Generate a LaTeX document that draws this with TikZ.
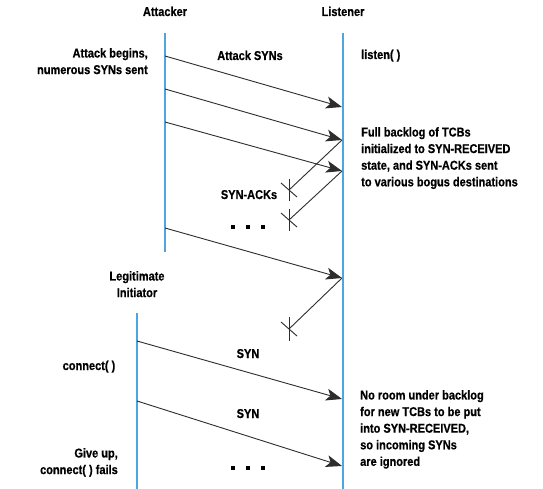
\documentclass[tikz,border=0pt]{standalone}
\usepackage{fontspec}
\setmainfont{Liberation Sans}[FakeStretch=0.86, BoldFont={Liberation Sans Bold}, BoldFeatures={FakeStretch=0.86, FakeBold=0.6}]
\usetikzlibrary{arrows.meta}
\definecolor{lifeblue}{RGB}{79,166,222}
\definecolor{msggray}{RGB}{45,45,45}
\begin{document}
\begin{tikzpicture}[x=1pt,y=-1pt,
  lbl/.style={font=\fontsize{12.8}{16.6}\selectfont\bfseries, inner sep=0pt},
  life/.style={draw=lifeblue, line width=1.8pt},
  msg/.style={draw=msggray, line width=0.9pt, -{Stealth[length=16pt,width=12pt,inset=4pt]}},
  ack/.style={draw=msggray, line width=0.9pt},
  dotsq/.style={fill=black, minimum size=3.6pt, inner sep=0pt}
]
\useasboundingbox[fill=white] (0,0) rectangle (543,489);

% lifelines
\coordinate (atop) at (165,33);
\coordinate (abot) at (165,252);
\coordinate (ltop) at (343,33);
\coordinate (lbot) at (343,489);
\coordinate (itop) at (137,313);
\coordinate (ibot) at (137,489);
\draw[life] (atop) -- (abot);
\draw[life] (ltop) -- (lbot);
\draw[life] (itop) -- (ibot);

% message endpoints
\coordinate (s1) at (165,56);  \coordinate (t1) at (342,107);
\coordinate (s2) at (165,89);  \coordinate (t2) at (342,140);
\coordinate (s3) at (165,122); \coordinate (t3) at (342,171);
\coordinate (s4) at (165,228); \coordinate (t4) at (342,278);
\coordinate (s5) at (137,341); \coordinate (t5) at (342,399);
\coordinate (s6) at (137,401); \coordinate (t6) at (342,466);

\draw[msg] (s1) -- (t1);
\draw[msg] (s2) -- (t2);
\draw[msg] (s3) -- (t3);
\draw[msg] (s4) -- (t4);
\draw[msg] (s5) -- (t5);
\draw[msg] (s6) -- (t6);

% SYN-ACKs that go nowhere
\coordinate (k1) at (289,190);
\coordinate (k2) at (289,220);
\coordinate (k3) at (289,329);
\draw[ack] (t2) -- (k1);
\draw[ack] (t3) -- (k2);
\draw[ack] (t4) -- (k3);
\foreach \k/\h in {k1/11,k2/11,k3/12}{
  \draw[ack] (\k) ++(0,-\h) -- ++(0,2*\h);
  \draw[ack] (\k) ++(-8,-7) -- ++(16,14);
}

% labels
\node[lbl, anchor=base] (attacker) at (165,16) {Attacker};
\node[lbl, anchor=base] (listener) at (343,16) {Listener};
\node[lbl, anchor=north east, align=right] (begins) at (148,48) {Attack begins,\\numerous SYNs sent};
\node[lbl, anchor=base] (asyn) at (250,60) {Attack SYNs};
\node[lbl, anchor=base west] (listen) at (361,59) {listen( )};
\node[lbl, anchor=north west, align=left] (full) at (361,127) {Full backlog of TCBs\\initialized to SYN-RECEIVED\\state, and SYN-ACKs sent\\to various bogus destinations};
\node[lbl, anchor=base] (synack) at (249,199) {SYN-ACKs};
\node[dotsq] (da1) at (233,227) {};
\node[dotsq] (da2) at (248,227) {};
\node[dotsq] (da3) at (263,227) {};
\node[lbl, anchor=north, align=center] (legit) at (137,271) {Legitimate\\Initiator};
\node[lbl, anchor=base] (connect) at (89,370) {connect( )};
\node[lbl, anchor=base] (syn1) at (248,358) {SYN};
\node[lbl, anchor=base] (syn2) at (248,418) {SYN};
\node[lbl, anchor=north east, align=right] (giveup) at (118,448) {Give up,\\connect( ) fails};
\node[lbl, anchor=north west, align=left] (noroom) at (360,390) {No room under backlog\\for new TCBs to be put\\into SYN-RECEIVED,\\so incoming SYNs\\are ignored};
\node[dotsq] (db1) at (233,468) {};
\node[dotsq] (db2) at (248,468) {};
\node[dotsq] (db3) at (263,468) {};
\end{tikzpicture}
\end{document}
